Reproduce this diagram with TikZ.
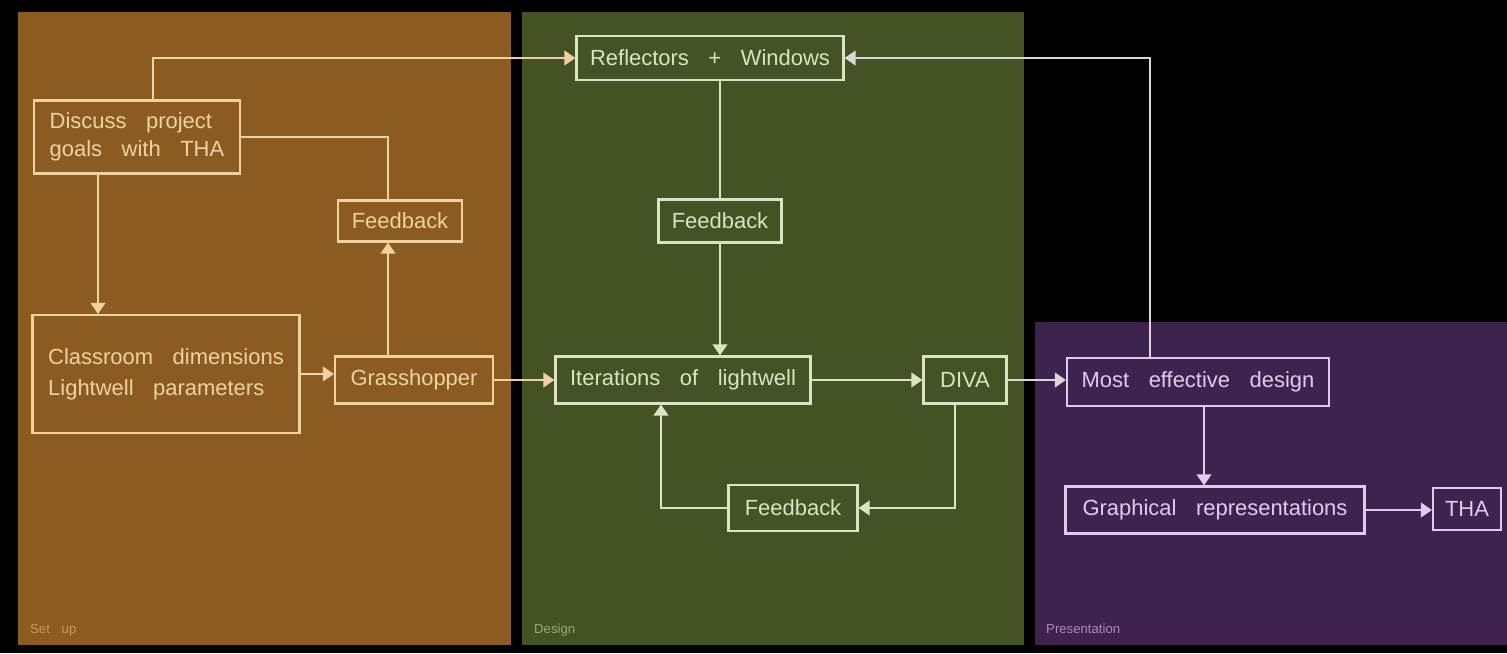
\documentclass[tikz,border=0pt]{standalone}
\usepackage{fontspec}
\setmainfont[WordSpace=3.2]{Liberation Sans}
\usetikzlibrary{arrows.meta,positioning}
\definecolor{setupbg}{HTML}{8C5B21}
\definecolor{designbg}{HTML}{445226}
\definecolor{presbg}{HTML}{3E2350}
\definecolor{setupln}{HTML}{F0D2A2}
\definecolor{designln}{HTML}{DCE3C3}
\definecolor{presln}{HTML}{E0CBEE}
\definecolor{gapln}{HTML}{D8D8D8}
\definecolor{setuptx}{HTML}{C49A62}
\definecolor{designtx}{HTML}{9AA878}
\definecolor{prestx}{HTML}{A68CB8}

\begin{document}
\begin{tikzpicture}[
  x=0.02cm, y=-0.02cm,
  >={Triangle[length=2.2mm,width=2.9mm]},
  box/.style={draw, line width=1.2pt, inner sep=0pt, align=center,
              font=\fontsize{12.5}{16}\selectfont},
  setup/.style={box, draw=setupln, text=setupln},
  design/.style={box, draw=designln, text=designln},
  pres/.style={box, draw=presln, text=presln},
  link/.style={line width=1.2pt},
  phase/.style={anchor=base west, font=\fontsize{7.5}{9}\selectfont},
]

% ============================================================ PANELS
\fill[black] (0,0) rectangle (1507,653);
\useasboundingbox (0,0) rectangle (1507,653);
\fill[setupbg] (18,12) rectangle (511,645);
\fill[designbg] (522,12) rectangle (1024,645);
\fill[presbg] (1035,322) rectangle (1507,645);

\node[phase, text=setuptx] (lsetup) at (24,633) {Set up};
\node[phase, text=designtx] (ldesign) at (528,633) {Design};
\node[phase, text=prestx] (lpres) at (1040,633) {Presentation};

% ============================================================ SET UP
\node[setup, align=left, minimum width=4.12cm, minimum height=1.46cm] (discuss) at (137,137)
  {Discuss project\\goals with THA};
\node[setup, minimum width=2.48cm, minimum height=0.82cm] (fbsetup) at (400,221) {Feedback};
\node[setup, align=left, minimum width=5.34cm, minimum height=2.36cm,
      font=\fontsize{12.5}{17.5}\selectfont] (room) at (166,374)
  {Classroom dimensions\\Lightwell parameters};
\node[setup, minimum width=3.16cm, minimum height=0.94cm] (grass) at (414,380) {Grasshopper};

% ============================================================ DESIGN
\node[design, minimum width=5.34cm, minimum height=0.88cm] (refl) at (710,58) {Reflectors + Windows};
\node[design, minimum width=2.46cm, minimum height=0.86cm] (fbtop) at (720,221) {Feedback};
\node[design, minimum width=5.1cm, minimum height=0.94cm] (iter) at (683,380) {Iterations of lightwell};
\node[design, minimum width=1.66cm, minimum height=0.94cm] (diva) at (965,380) {DIVA};
\node[design, minimum width=2.58cm, minimum height=0.92cm] (fbloop) at (793,508) {Feedback};

% ============================================================ PRESENTATION
\node[pres, minimum width=5.24cm, minimum height=0.96cm] (best) at (1198,382) {Most effective design};
\node[pres, minimum width=5.98cm, minimum height=0.94cm] (graph) at (1215,510) {Graphical representations};
\node[pres, minimum width=1.36cm, minimum height=0.84cm] (tha) at (1467,509) {THA};

% ============================================================ LINKS
\coordinate (dtop) at ([xshift=3.2mm]discuss.north);
\coordinate (dbot) at ([xshift=-7.8mm]discuss.south);
\coordinate (fbin) at ([xshift=-2.4mm]fbsetup.south);
\coordinate (fbout) at ([xshift=-2.4mm]fbsetup.north);
\coordinate (divabot) at ([xshift=-2mm]diva.south);
\coordinate (iterbot) at ([xshift=-4.4mm]iter.south);
\coordinate (besttop) at ([xshift=-9.6mm]best.north);
\coordinate (bestbot) at ([xshift=1.2mm]best.south);

\draw[link, ->, setupln] (dtop) |- (refl.west);
\draw[link, setupln] (discuss.east) -| (fbout);
\draw[link, ->, setupln] (dbot) -- (dbot |- room.north);
\draw[link, ->, setupln] (room.east) -- (room.east -| grass.west);
\draw[link, ->, setupln] (grass.north -| fbin) -- (fbin);
\draw[link, ->, setupln] (grass.east) -- (iter.west);

\draw[link, designln] (refl.south -| fbtop) -- (fbtop.north);
\draw[link, ->, designln] (fbtop.south) -- (fbtop.south |- iter.north);
\draw[link, ->, designln] (iter.east) -- (diva.west);
\draw[link, ->, designln] (divabot) |- (fbloop.east);
\draw[link, ->, designln] (fbloop.west) -| (iterbot);
\draw[link, ->, gapln] (diva.east) -- (diva.east -| best.west);

\draw[link, ->, gapln] (besttop) |- (refl.east);
\draw[link, ->, presln] (bestbot) -- (bestbot |- graph.north);
\draw[link, ->, presln] (graph.east) -- (graph.east -| tha.west);

\end{tikzpicture}
\end{document}
